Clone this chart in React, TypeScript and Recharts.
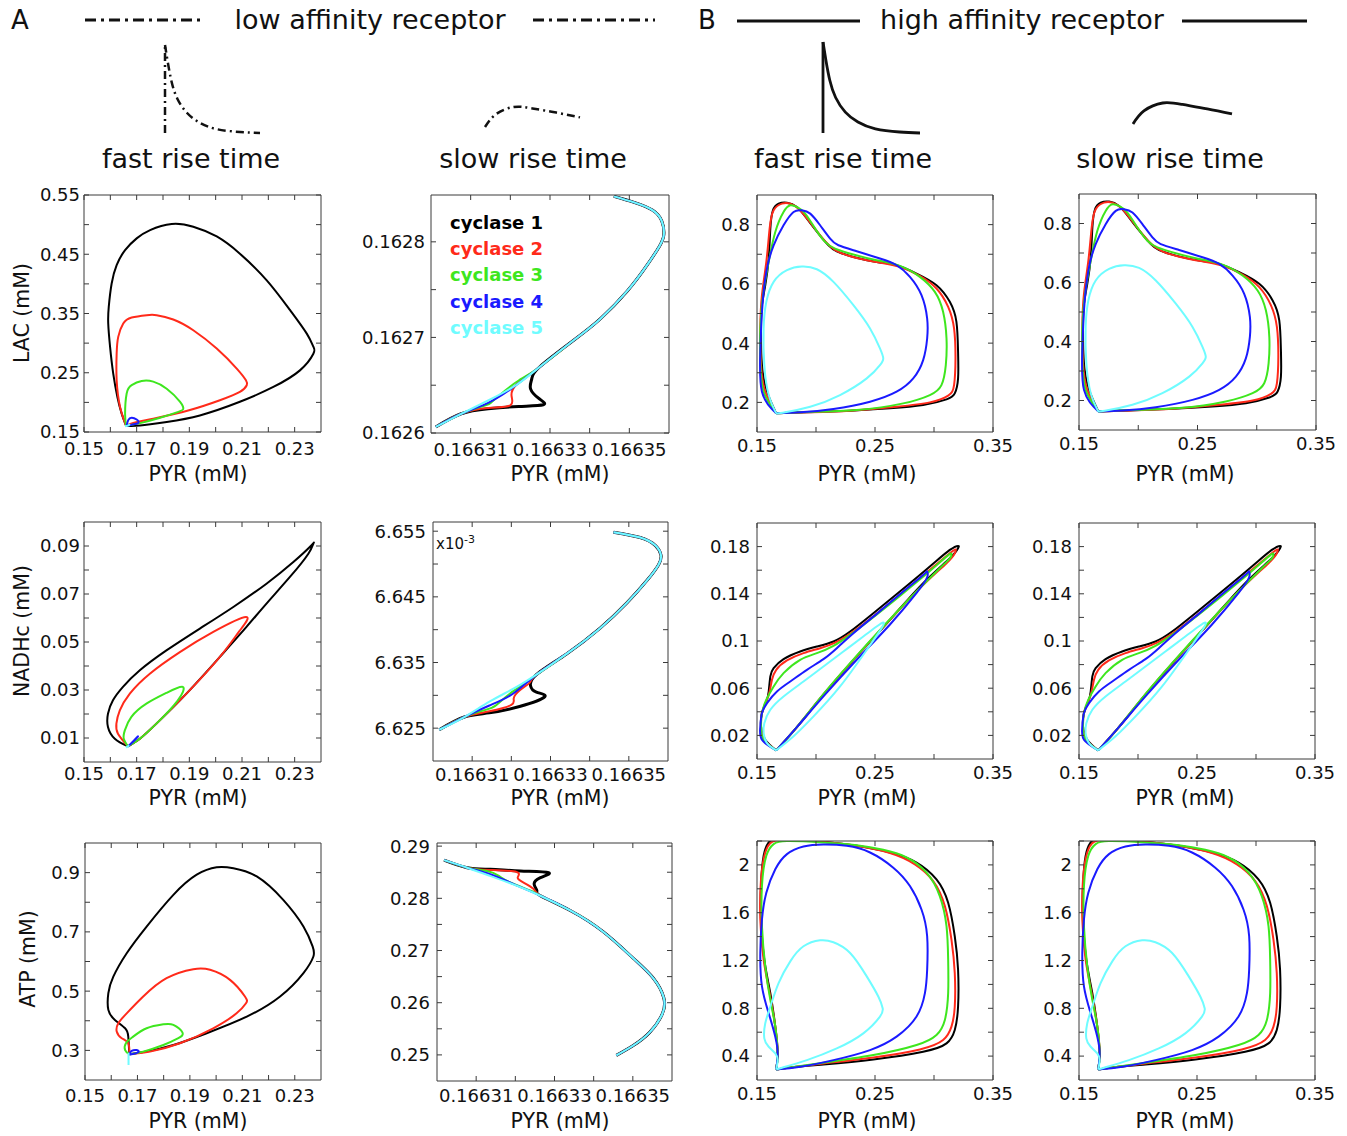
import React from 'react'
import { LineChart, Line, XAxis, YAxis } from 'recharts'

const FONT = "'DejaVu Sans', Verdana, sans-serif"
const AX = '#3a3a3a'
const COLORS = ['#000000', '#ff2a1a', '#3ee61e', '#1a1aff', '#6ffcff']
const LEGEND = ['cyclase 1', 'cyclase 2', 'cyclase 3', 'cyclase 4', 'cyclase 5']

type P = [number, number]

// ---- column 1: low affinity, fast rise (LAC / NADHc / ATP vs PYR)
const lacFastK: P[] = [[0.166, 0.1605], [0.1643, 0.181], [0.1627, 0.2087], [0.1611, 0.2486], [0.1599, 0.2937], [0.1592, 0.3331], [0.1594, 0.3613], [0.1605, 0.4007], [0.1624, 0.4317], [0.1656, 0.457], [0.17, 0.4768], [0.1751, 0.4908], [0.1833, 0.501], [0.1915, 0.4965], [0.2004, 0.48], [0.2092, 0.451], [0.2194, 0.406], [0.2282, 0.356], [0.2346, 0.316], [0.2371, 0.294], [0.2371, 0.282], [0.232, 0.254], [0.2219, 0.226], [0.2092, 0.201], [0.194, 0.178], [0.1814, 0.167], [0.1713, 0.161], [0.166, 0.1605]]
const lacFastR: P[] = [[0.166, 0.1605], [0.1637, 0.1923], [0.1624, 0.2373], [0.1624, 0.2824], [0.163, 0.3106], [0.1649, 0.3331], [0.1681, 0.3432], [0.1738, 0.3472], [0.1776, 0.3472], [0.1839, 0.3399], [0.1915, 0.3218], [0.2004, 0.2908], [0.208, 0.257], [0.2115, 0.2373], [0.2118, 0.2289], [0.2092, 0.2176], [0.2016, 0.2035], [0.1899, 0.1866], [0.1763, 0.1725], [0.1687, 0.1652], [0.166, 0.1605]]
const lacFastG: P[] = [[0.166, 0.1605], [0.1656, 0.181], [0.1662, 0.215], [0.1681, 0.229], [0.1719, 0.236], [0.1763, 0.235], [0.1814, 0.223], [0.1865, 0.201], [0.1877, 0.189], [0.1858, 0.184], [0.1789, 0.174], [0.1713, 0.165], [0.166, 0.1605]]
const lacFastB: P[] = [[0.1662, 0.1605], [0.1668, 0.17], [0.1681, 0.1742], [0.17, 0.171], [0.1706, 0.1652], [0.1681, 0.1624], [0.1662, 0.1605]]
const lacFastC: P[] = [[0.1656, 0.1596], [0.1668, 0.1612], [0.1675, 0.163]]

const nadFastK: P[] = [[0.1667, 0.0065], [0.1617, 0.0097], [0.1591, 0.0146], [0.1591, 0.0201], [0.161, 0.0257], [0.1648, 0.0313], [0.1712, 0.0382], [0.1813, 0.0465], [0.194, 0.0556], [0.2067, 0.0646], [0.2193, 0.0743], [0.2295, 0.0833], [0.2364, 0.0903], [0.2371, 0.091], [0.2352, 0.0868], [0.2282, 0.0771], [0.2193, 0.066], [0.2117, 0.0563], [0.2016, 0.0438], [0.1889, 0.0285], [0.1775, 0.016], [0.1712, 0.0097], [0.1667, 0.0065]]
const nadFastR: P[] = [[0.1667, 0.0065], [0.1629, 0.0118], [0.1623, 0.016], [0.1636, 0.0215], [0.1674, 0.0285], [0.175, 0.0368], [0.1864, 0.0458], [0.1991, 0.0542], [0.2115, 0.0604], [0.209, 0.0545], [0.2016, 0.0438], [0.1889, 0.0285], [0.1775, 0.016], [0.1712, 0.0097], [0.1667, 0.0065]]
const nadFastG: P[] = [[0.1667, 0.0065], [0.1651, 0.0097], [0.1655, 0.0132], [0.168, 0.0188], [0.1737, 0.0243], [0.1813, 0.0288], [0.1875, 0.0313], [0.1855, 0.0255], [0.1775, 0.016], [0.1712, 0.0097], [0.1667, 0.0065]]
const nadFastB: P[] = [[0.1667, 0.0065], [0.169, 0.009], [0.1705, 0.0107], [0.1692, 0.009], [0.1667, 0.0065]]
const nadFastC: P[] = [[0.166, 0.006], [0.1672, 0.007]]

const atpFastK: P[] = [[0.1669, 0.287], [0.1665, 0.3465], [0.1653, 0.3746], [0.1614, 0.4028], [0.1589, 0.4366], [0.1589, 0.493], [0.1608, 0.549], [0.1659, 0.628], [0.1735, 0.718], [0.1837, 0.825], [0.1926, 0.893], [0.2002, 0.918], [0.2066, 0.915], [0.2155, 0.887], [0.2256, 0.808], [0.2333, 0.718], [0.2368, 0.651], [0.2371, 0.617], [0.2333, 0.561], [0.2244, 0.482], [0.2117, 0.414], [0.1964, 0.358], [0.1837, 0.318], [0.1735, 0.296], [0.1669, 0.287]]
const atpFastR: P[] = [[0.1669, 0.287], [0.1665, 0.324], [0.164, 0.341], [0.1621, 0.3634], [0.1627, 0.3915], [0.1659, 0.425], [0.1722, 0.4817], [0.1811, 0.5437], [0.1913, 0.574], [0.1977, 0.572], [0.2053, 0.538], [0.211, 0.4817], [0.2114, 0.459], [0.2078, 0.425], [0.1989, 0.3746], [0.1862, 0.324], [0.1748, 0.2958], [0.1669, 0.287]]
const atpFastG: P[] = [[0.1669, 0.287], [0.1653, 0.301], [0.1656, 0.324], [0.1684, 0.3465], [0.1735, 0.3746], [0.1799, 0.388], [0.1837, 0.386], [0.1872, 0.36], [0.1856, 0.341], [0.1799, 0.318], [0.1722, 0.2958], [0.1669, 0.287]]
const atpFastB: P[] = [[0.1669, 0.287], [0.1678, 0.298], [0.1697, 0.301], [0.1703, 0.2935], [0.1678, 0.2868], [0.1669, 0.287]]
const atpFastC: P[] = [[0.1666, 0.2507], [0.1666, 0.272], [0.1666, 0.292]]

// ---- column 2: low affinity, slow rise (zoom on the corner)
const lacSlowLow: P[] = [[0.1663012, 0.1626063], [0.1663076, 0.1626201]]
const lacSlowDiag: P[] = [[0.1663144, 0.162634], [0.1663213, 0.1626497], [0.1663273, 0.1626688]]
const lacSlowUp: P[] = [[0.1663358, 0.1626965], [0.1663426, 0.1627191], [0.1663495, 0.1627486], [0.1663546, 0.1627764], [0.1663576, 0.1627955], [0.1663587, 0.1628076], [0.1663582, 0.1628215], [0.1663559, 0.162833], [0.1663512, 0.1628413], [0.1663461, 0.1628476]]
const lacSlowK: P[] = [[0.1663144, 0.1626254], [0.1663221, 0.1626278], [0.1663283, 0.1626295], [0.1663273, 0.1626358], [0.1663251, 0.1626462], [0.1663254, 0.1626566], [0.1663273, 0.1626688]]
const lacSlowR: P[] = [[0.1663144, 0.1626262], [0.16632, 0.1626288], [0.1663203, 0.1626392], [0.1663213, 0.1626497], [0.1663238, 0.1626583], [0.1663273, 0.1626688]]
const lacSlowG: P[] = [[0.1663136, 0.1626288], [0.1663153, 0.1626323], [0.1663187, 0.1626444], [0.1663221, 0.1626549], [0.1663273, 0.1626688]]
const lacSlowB: P[] = [[0.1663144, 0.1626316], [0.1663204, 0.1626469], [0.1663273, 0.1626688]]

const nadSlowLow: P[] = [[0.1663016, 6.62476], [0.166308, 6.6267]]
const nadSlowDiag: P[] = [[0.1663144, 6.62903], [0.1663204, 6.63097], [0.1663264, 6.63316]]
const nadSlowUp: P[] = [[0.1663341, 6.63631], [0.1663426, 6.64019], [0.1663495, 6.64408], [0.1663546, 6.64748], [0.1663576, 6.6499], [0.1663582, 6.65136], [0.1663568, 6.65281], [0.1663529, 6.65403], [0.1663461, 6.65485]]
const nadSlowK: P[] = [[0.1663144, 6.62733], [0.1663221, 6.6283], [0.1663285, 6.62976], [0.1663264, 6.63049], [0.1663249, 6.63146], [0.1663264, 6.63316]]
const nadSlowR: P[] = [[0.1663144, 6.62757], [0.16632, 6.62854], [0.1663206, 6.62951], [0.1663221, 6.63073], [0.1663247, 6.63194], [0.1663264, 6.63316]]
const nadSlowG: P[] = [[0.1663136, 6.62782], [0.1663162, 6.62854], [0.1663196, 6.63024], [0.1663238, 6.63194], [0.1663264, 6.63316]]
const nadSlowB: P[] = [[0.1663144, 6.62845], [0.1663204, 6.63024], [0.1663264, 6.63316]]

const atpSlowLow: P[] = [[0.1663018, 0.28732], [0.1663077, 0.28587]]
const atpSlowDiag: P[] = [[0.1663136, 0.28429], [0.1663204, 0.2824], [0.1663264, 0.2805]]
const atpSlowUp: P[] = [[0.166334, 0.27767], [0.1663425, 0.27356], [0.1663501, 0.26852], [0.1663552, 0.26473], [0.1663579, 0.26095], [0.1663575, 0.25779], [0.1663543, 0.25432], [0.1663501, 0.2518], [0.1663458, 0.24991]]
const atpSlowK: P[] = [[0.1663136, 0.28555], [0.1663213, 0.28524], [0.1663285, 0.28492], [0.1663264, 0.28397], [0.1663248, 0.28271], [0.1663255, 0.28145], [0.1663264, 0.2805]]
const atpSlowR: P[] = [[0.1663136, 0.28543], [0.1663203, 0.28505], [0.1663206, 0.28397], [0.1663221, 0.28303], [0.1663247, 0.28177], [0.1663264, 0.2805]]
const atpSlowG: P[] = [[0.1663128, 0.28524], [0.1663158, 0.28429], [0.1663187, 0.28303], [0.166324, 0.28145], [0.1663264, 0.2805]]
const atpSlowB: P[] = [[0.1663136, 0.28461], [0.1663196, 0.28271], [0.1663264, 0.2805]]

// ---- columns 3 & 4: high affinity receptor
const lacHiK: P[] = [[0.1663, 0.1629], [0.1585, 0.236], [0.1542, 0.3258], [0.1534, 0.4494], [0.1542, 0.528], [0.157, 0.5955], [0.1599, 0.6854], [0.1613, 0.7865], [0.1635, 0.8483], [0.1683, 0.8708], [0.1754, 0.8742], [0.1838, 0.8596], [0.1923, 0.8202], [0.2021, 0.7697], [0.2106, 0.7303], [0.2176, 0.7101], [0.2317, 0.691], [0.2514, 0.6742], [0.2683, 0.6629], [0.2852, 0.6348], [0.3021, 0.5955], [0.3134, 0.5393], [0.319, 0.4719], [0.3204, 0.3708], [0.3204, 0.2809], [0.3176, 0.2303], [0.3106, 0.2101], [0.2908, 0.191], [0.2627, 0.1798], [0.2289, 0.1719], [0.1923, 0.1663], [0.1663, 0.1629]]
const lacHiR: P[] = [[0.1663, 0.1629], [0.157, 0.236], [0.1534, 0.3258], [0.1528, 0.4494], [0.1542, 0.5618], [0.1579, 0.6742], [0.1607, 0.7865], [0.1641, 0.8483], [0.1711, 0.8708], [0.1782, 0.8708], [0.1852, 0.8539], [0.1937, 0.8146], [0.2035, 0.764], [0.212, 0.727], [0.2204, 0.7056], [0.2345, 0.6876], [0.2542, 0.6719], [0.2711, 0.6573], [0.288, 0.627], [0.3021, 0.5843], [0.312, 0.5225], [0.317, 0.4494], [0.3182, 0.3483], [0.317, 0.2584], [0.312, 0.2225], [0.2965, 0.2], [0.2683, 0.1854], [0.2289, 0.1719], [0.1923, 0.1663], [0.1663, 0.1629]]
const lacHiG: P[] = [[0.1663, 0.1629], [0.1556, 0.236], [0.1528, 0.3371], [0.1528, 0.4494], [0.1551, 0.5618], [0.1599, 0.6742], [0.1655, 0.7753], [0.1725, 0.8427], [0.1782, 0.8652], [0.1838, 0.8596], [0.1908, 0.8371], [0.1993, 0.7865], [0.2077, 0.7416], [0.2162, 0.719], [0.2317, 0.6989], [0.2514, 0.6798], [0.2711, 0.6607], [0.288, 0.6236], [0.3007, 0.573], [0.3077, 0.5056], [0.3106, 0.4157], [0.31, 0.3258], [0.3063, 0.2584], [0.2965, 0.2247], [0.2739, 0.1966], [0.2345, 0.1742], [0.1923, 0.1675], [0.1663, 0.1629]]
const lacHiB: P[] = [[0.1663, 0.1629], [0.1542, 0.236], [0.1528, 0.3708], [0.1542, 0.5056], [0.1579, 0.6404], [0.1641, 0.7303], [0.1725, 0.7978], [0.181, 0.8427], [0.188, 0.8483], [0.1951, 0.8371], [0.2035, 0.7978], [0.212, 0.7528], [0.219, 0.7303], [0.2345, 0.7101], [0.2542, 0.6854], [0.2683, 0.6629], [0.2796, 0.6236], [0.2894, 0.5618], [0.2942, 0.4831], [0.2942, 0.4157], [0.2908, 0.3427], [0.2824, 0.2809], [0.2683, 0.236], [0.2458, 0.2022], [0.2148, 0.1775], [0.1866, 0.1663], [0.1663, 0.1629]]
const lacHiC: P[] = [[0.1663, 0.1629], [0.1599, 0.2247], [0.1562, 0.3258], [0.1556, 0.4494], [0.1579, 0.5393], [0.1641, 0.6067], [0.1754, 0.6461], [0.188, 0.6584], [0.2007, 0.6494], [0.2148, 0.6067], [0.2317, 0.5281], [0.2458, 0.4494], [0.2542, 0.382], [0.257, 0.3483], [0.2542, 0.3258], [0.243, 0.2809], [0.2204, 0.2247], [0.1951, 0.1854], [0.1718, 0.1652], [0.1663, 0.1629]]

const nadHiK: P[] = [[0.1663, 0.0073], [0.157, 0.0163], [0.1534, 0.0276], [0.1542, 0.0389], [0.1579, 0.0488], [0.1599, 0.0572], [0.1613, 0.07], [0.1641, 0.077], [0.1725, 0.0846], [0.1866, 0.0911], [0.2007, 0.0953], [0.2148, 0.0996], [0.2289, 0.108], [0.2486, 0.1236], [0.2711, 0.1419], [0.2965, 0.1631], [0.3134, 0.1772], [0.3204, 0.1806], [0.3204, 0.1786], [0.3134, 0.1701], [0.2908, 0.149], [0.2627, 0.118], [0.2345, 0.087], [0.2063, 0.0545], [0.1838, 0.027], [0.1663, 0.0073]]
const nadHiR: P[] = [[0.1663, 0.0073], [0.1562, 0.0163], [0.1534, 0.0276], [0.1542, 0.0389], [0.1579, 0.0488], [0.1607, 0.0572], [0.1627, 0.0671], [0.1663, 0.0756], [0.1754, 0.0835], [0.1894, 0.0897], [0.2035, 0.0939], [0.2162, 0.0987], [0.2303, 0.1072], [0.25, 0.1221], [0.2725, 0.1405], [0.2965, 0.1603], [0.3134, 0.1744], [0.3183, 0.1777], [0.3176, 0.1743], [0.3106, 0.1659], [0.288, 0.1447], [0.2599, 0.115], [0.2317, 0.084], [0.2049, 0.053], [0.1838, 0.027], [0.1663, 0.0073]]
const nadHiG: P[] = [[0.1663, 0.0073], [0.1556, 0.0163], [0.1534, 0.0276], [0.1542, 0.0389], [0.1579, 0.0502], [0.1641, 0.0615], [0.1725, 0.0728], [0.1866, 0.0841], [0.2007, 0.0897], [0.2148, 0.0959], [0.2289, 0.1052], [0.2486, 0.1202], [0.2711, 0.1382], [0.2937, 0.1569], [0.3106, 0.1715], [0.3148, 0.1738], [0.3134, 0.1701], [0.3049, 0.1617], [0.2851, 0.1419], [0.257, 0.1123], [0.2289, 0.0812], [0.2035, 0.0516], [0.1838, 0.027], [0.1663, 0.0073]]
const nadHiB: P[] = [[0.1663, 0.0073], [0.1542, 0.0163], [0.1528, 0.0276], [0.1542, 0.0389], [0.1585, 0.0474], [0.1669, 0.0572], [0.1782, 0.0657], [0.1923, 0.0756], [0.2063, 0.0846], [0.2176, 0.0939], [0.2317, 0.1066], [0.2514, 0.123], [0.2739, 0.1419], [0.2908, 0.156], [0.2942, 0.1588], [0.2942, 0.154], [0.2851, 0.1405], [0.2627, 0.114], [0.2345, 0.0841], [0.2063, 0.053], [0.1838, 0.027], [0.1663, 0.0073]]
const nadHiC: P[] = [[0.1663, 0.0073], [0.1585, 0.0135], [0.1556, 0.022], [0.1562, 0.0304], [0.1613, 0.0417], [0.1725, 0.053], [0.1894, 0.0657], [0.2063, 0.0784], [0.2232, 0.0911], [0.2401, 0.1038], [0.2514, 0.1123], [0.257, 0.1157], [0.2556, 0.1109], [0.243, 0.0925], [0.2204, 0.0615], [0.1979, 0.0361], [0.181, 0.0192], [0.1663, 0.0073]]

const atpHiK: P[] = [[0.1663, 0.288], [0.1675, 0.4224], [0.1655, 0.6466], [0.1613, 0.9268], [0.1562, 1.207], [0.1534, 1.543], [0.1534, 1.823], [0.1556, 2.076], [0.1599, 2.188], [0.1641, 2.21], [0.1782, 2.21], [0.2063, 2.193], [0.2345, 2.16], [0.2627, 2.104], [0.2852, 2.02], [0.3021, 1.879], [0.312, 1.683], [0.3176, 1.403], [0.3204, 1.123], [0.3204, 0.8147], [0.3176, 0.6186], [0.3106, 0.5065], [0.2908, 0.4364], [0.2486, 0.372], [0.2063, 0.33], [0.1782, 0.3047], [0.1663, 0.288]]
const atpHiR: P[] = [[0.1663, 0.288], [0.1675, 0.4224], [0.1655, 0.6466], [0.1607, 0.9268], [0.1556, 1.207], [0.1528, 1.543], [0.1534, 1.879], [0.157, 2.104], [0.1627, 2.193], [0.1754, 2.21], [0.2063, 2.193], [0.2345, 2.16], [0.2627, 2.1], [0.2838, 2.005], [0.2993, 1.865], [0.3092, 1.655], [0.3148, 1.375], [0.3176, 1.095], [0.3176, 0.8147], [0.3148, 0.6466], [0.3077, 0.5345], [0.288, 0.456], [0.2486, 0.3888], [0.2063, 0.3384], [0.1782, 0.3047], [0.1663, 0.288]]
const atpHiG: P[] = [[0.1663, 0.288], [0.1675, 0.4224], [0.1655, 0.6466], [0.1613, 0.8707], [0.157, 1.151], [0.1542, 1.487], [0.1542, 1.823], [0.1579, 2.076], [0.1641, 2.174], [0.1754, 2.199], [0.2063, 2.188], [0.2345, 2.165], [0.257, 2.126], [0.2768, 2.062], [0.2937, 1.935], [0.3049, 1.739], [0.3106, 1.487], [0.312, 1.207], [0.312, 0.9268], [0.3092, 0.7026], [0.3021, 0.5765], [0.2852, 0.4925], [0.2486, 0.4084], [0.2063, 0.344], [0.1782, 0.3047], [0.1663, 0.288]]
const atpHiB: P[] = [[0.1663, 0.288], [0.1675, 0.4224], [0.1655, 0.5625], [0.1599, 0.7586], [0.1542, 0.9828], [0.1528, 1.263], [0.1542, 1.543], [0.1579, 1.767], [0.1655, 1.963], [0.1754, 2.09], [0.1894, 2.154], [0.2063, 2.171], [0.2261, 2.16], [0.2458, 2.104], [0.2655, 1.977], [0.2796, 1.823], [0.2894, 1.627], [0.2942, 1.403], [0.2942, 1.123], [0.2923, 0.9268], [0.2852, 0.7306], [0.2683, 0.5625], [0.2458, 0.4504], [0.2148, 0.3664], [0.1866, 0.3103], [0.1663, 0.288]]
const atpHiC: P[] = [[0.1663, 0.288], [0.1675, 0.3664], [0.1655, 0.4224], [0.1599, 0.4785], [0.1562, 0.5485], [0.157, 0.6746], [0.1613, 0.8147], [0.1683, 1.011], [0.1782, 1.193], [0.1894, 1.319], [0.2035, 1.369], [0.2148, 1.353], [0.2289, 1.263], [0.243, 1.067], [0.2528, 0.8987], [0.2565, 0.8007], [0.2542, 0.7306], [0.2401, 0.5905], [0.2176, 0.4644], [0.1923, 0.3664], [0.1718, 0.3047], [0.1663, 0.288]]

// ---- stimulus icons (normalised time / amplitude)
const fastPulse: P[] = [[0, 1], [0.03, 0.8], [0.07, 0.58], [0.13, 0.39], [0.23, 0.23], [0.36, 0.12], [0.54, 0.045], [0.79, 0.011], [1, 0]]
const fastRise: P[] = [[0, 0], [0, 1]]
const slowPulse: P[] = [[0, 0], [0.11, 0.62], [0.3, 1], [0.5, 0.93], [0.75, 0.72], [1, 0.48]]

// ---- axis ticks
const xLow = [0.15, 0.16, 0.17, 0.18, 0.19, 0.2, 0.21, 0.22, 0.23]
const xLowLab = ['0.15', '', '0.17', '', '0.19', '', '0.21', '', '0.23']
const xZoom = [0.16631, 0.16632, 0.16633, 0.16634, 0.16635]
const xZoomLab = ['0.16631', '', '0.16633', '', '0.16635']
const xHi = [0.15, 0.2, 0.25, 0.3, 0.35]
const xHiLab = ['0.15', '', '0.25', '', '0.35']

const yLacLow = [0.15, 0.2, 0.25, 0.3, 0.35, 0.4, 0.45, 0.5, 0.55]
const yLacLowLab = ['0.15', '', '0.25', '', '0.35', '', '0.45', '', '0.55']
const yNadLow = [0.01, 0.02, 0.03, 0.04, 0.05, 0.06, 0.07, 0.08, 0.09]
const yNadLowLab = ['0.01', '', '0.03', '', '0.05', '', '0.07', '', '0.09']
const yAtpLow = [0.3, 0.4, 0.5, 0.6, 0.7, 0.8, 0.9]
const yAtpLowLab = ['0.3', '', '0.5', '', '0.7', '', '0.9']
const yLacZoom = [0.1626, 0.16265, 0.1627, 0.16275, 0.1628]
const yLacZoomLab = ['0.1626', '', '0.1627', '', '0.1628']
const yNadZoom = [6.625, 6.63, 6.635, 6.64, 6.645, 6.65, 6.655]
const yNadZoomLab = ['6.625', '', '6.635', '', '6.645', '', '6.655']
const yAtpZoom = [0.25, 0.255, 0.26, 0.265, 0.27, 0.275, 0.28, 0.285, 0.29]
const yAtpZoomLab = ['0.25', '', '0.26', '', '0.27', '', '0.28', '', '0.29']
const yLacHi = [0.2, 0.3, 0.4, 0.5, 0.6, 0.7, 0.8]
const yLacHiLab = ['0.2', '', '0.4', '', '0.6', '', '0.8']
const yNadHi = [0.02, 0.04, 0.06, 0.08, 0.1, 0.12, 0.14, 0.16, 0.18]
const yNadHiLab = ['0.02', '', '0.06', '', '0.1', '', '0.14', '', '0.18']
const yAtpHi = [0.4, 0.6, 0.8, 1, 1.2, 1.4, 1.6, 1.8, 2, 2.2]
const yAtpHiLab = ['0.4', '', '0.8', '', '1.2', '', '1.6', '', '2', '']

const pts = (a: P[]) => a.map(([x, y]) => ({ x, y }))

type Box = { x: number; y: number; w: number; h: number }
type PanelProps = {
  box: Box
  xd: [number, number]
  yd: [number, number]
  xt: number[]
  xl: string[]
  yt: number[]
  yl: string[]
  series: P[][]
  thickBlack?: boolean
  xm?: number
  ym?: number
}

// outer space around each plot box; every axis is 1px thick
const ML = 80, MR = 36, MT = 14, MB = 40
const tickFont = { fontSize: 18, fill: '#111', fontFamily: FONT }

function Panel({ box, xd, yd, xt, xl, yt, yl, series, thickBlack, xm = 12, ym = 12 }: PanelProps) {
  return (
    <div style={{ position: 'absolute', left: box.x - ML, top: box.y - MT }}>
      <LineChart width={box.w + ML + MR} height={box.h + MT + MB} margin={{ top: MT - 1, right: MR - 1, bottom: MB - 1, left: ML - 1 }}>
        <XAxis xAxisId="b" type="number" dataKey="x" domain={xd} ticks={xt} interval={0} allowDataOverflow
          height={1} tickSize={-5} tickMargin={xm} tickFormatter={(_v: number, i: number) => xl[i]}
          tick={tickFont} axisLine={{ stroke: AX }} tickLine={{ stroke: AX }} />
        <XAxis xAxisId="t" orientation="top" type="number" dataKey="x" domain={xd} ticks={xt} interval={0} allowDataOverflow
          height={1} tickSize={-5} tickFormatter={() => ''} axisLine={{ stroke: AX }} tickLine={{ stroke: AX }} />
        <YAxis yAxisId="l" type="number" dataKey="y" domain={yd} ticks={yt} interval={0} allowDataOverflow
          width={1} tickSize={-5} tickMargin={ym} tickFormatter={(_v: number, i: number) => yl[i]}
          tick={tickFont} axisLine={{ stroke: AX }} tickLine={{ stroke: AX }} />
        <YAxis yAxisId="r" orientation="right" type="number" dataKey="y" domain={yd} ticks={yt} interval={0} allowDataOverflow
          width={1} tickSize={-5} tickFormatter={() => ''} axisLine={{ stroke: AX }} tickLine={{ stroke: AX }} />
        {series.map((s, i) => (
          <Line key={i} data={pts(s)} dataKey="y" xAxisId="b" yAxisId="l" type="natural"
            stroke={COLORS[i]} strokeWidth={thickBlack && i === 0 ? 3 : 2} dot={false} activeDot={false}
            isAnimationActive={false} />
        ))}
        <Line data={pts(series[series.length - 1])} dataKey="y" xAxisId="t" yAxisId="r" stroke="none"
          dot={false} activeDot={false} isAnimationActive={false} />
      </LineChart>
    </div>
  )
}

function Icon({ x, y, w, h, lines, dash }: { x: number; y: number; w: number; h: number; lines: P[][]; dash?: string }) {
  const pad = 3
  return (
    <div style={{ position: 'absolute', left: x - pad, top: y - pad }}>
      <LineChart width={w + 2 * pad} height={h + 2 * pad} margin={{ top: pad, right: pad, bottom: pad, left: pad }}>
        <XAxis type="number" dataKey="x" domain={[0, 1]} hide />
        <YAxis type="number" dataKey="y" domain={[0, 1]} hide />
        {lines.map((l, i) => (
          <Line key={i} data={pts(l)} dataKey="y" type={l.length > 2 ? 'natural' : 'linear'} stroke="#111"
            strokeWidth={dash ? 2.5 : 2.8} strokeDasharray={dash} dot={false} activeDot={false} isAnimationActive={false} />
        ))}
      </LineChart>
    </div>
  )
}

const txt = (x: number, y: number, s: string, size: number, extra: React.CSSProperties = {}) => (
  <div style={{ position: 'absolute', left: x, top: y, transform: 'translate(-50%, -50%)', fontSize: size, whiteSpace: 'nowrap', color: '#111', ...extra }}>{s}</div>
)

const DASHDOT = '11 5 3 5'

export default function App() {
  const col1 = 84, col2 = 432, col3 = 757, col4 = 1079
  const row1 = 195, row2 = 522, row3 = 843
  const zoomX: [number, number] = [0.1663, 0.16636]
  return (
    <div style={{ position: 'absolute', left: 0, top: 0, width: 1347, height: 1136, background: '#fff', fontFamily: FONT, overflow: 'hidden' }}>
      {/* header */}
      {txt(20, 20, 'A', 26)}
      {txt(707, 20, 'B', 26)}
      <svg width={1347} height={40} style={{ position: 'absolute', left: 0, top: 0 }}>
        <line x1={85} y1={20} x2={205} y2={20} stroke="#111" strokeWidth={3} strokeDasharray={DASHDOT} />
        <line x1={533} y1={20} x2={655} y2={20} stroke="#111" strokeWidth={3} strokeDasharray={DASHDOT} />
        <line x1={737} y1={21} x2={860} y2={21} stroke="#111" strokeWidth={3} />
        <line x1={1182} y1={21} x2={1307} y2={21} stroke="#111" strokeWidth={3} />
      </svg>
      {txt(370, 19, 'low affinity receptor', 27)}
      {txt(1022, 19, 'high affinity receptor', 27)}
      <Icon x={165} y={45} w={95} h={88} lines={[fastRise, fastPulse]} dash="8 4 2 4" />
      <Icon x={485} y={107} w={95} h={20} lines={[slowPulse]} dash="8 4 2 4" />
      <Icon x={823} y={42} w={97} h={91} lines={[fastRise, fastPulse]} />
      <Icon x={1133} y={103} w={99} h={21} lines={[slowPulse]} />
      {txt(191, 158, 'fast rise time', 27)}
      {txt(533, 158, 'slow rise time', 27)}
      {txt(843, 158, 'fast rise time', 27)}
      {txt(1170, 158, 'slow rise time', 27)}

      {/* row 1: LAC */}
      <Panel box={{ x: col1, y: row1, w: 237, h: 237 }} xd={[0.15, 0.24]} yd={[0.15, 0.55]} xt={xLow} xl={xLowLab} yt={yLacLow} yl={yLacLowLab} xm={15} ym={9}
        series={[lacFastK, lacFastR, lacFastG, lacFastB, lacFastC]} />
      <Panel box={{ x: col2 - 1, y: row1, w: 238, h: 238 }} xd={zoomX} yd={[0.1626, 0.162849]} xt={xZoom} xl={xZoomLab} yt={yLacZoom} yl={yLacZoomLab} thickBlack xm={15} ym={11}
        series={[
          [...lacSlowLow, ...lacSlowK, ...lacSlowUp],
          [...lacSlowLow, ...lacSlowR, ...lacSlowUp],
          [...lacSlowLow, ...lacSlowG, ...lacSlowUp],
          [...lacSlowLow, ...lacSlowB, ...lacSlowUp],
          [...lacSlowLow, ...lacSlowDiag, ...lacSlowUp],
        ]} />
      <Panel box={{ x: col3, y: row1, w: 236, h: 237 }} xd={[0.15, 0.35]} yd={[0.1, 0.9]} xt={xHi} xl={xHiLab} yt={yLacHi} yl={yLacHiLab}
        series={[lacHiK, lacHiR, lacHiG, lacHiB, lacHiC]} />
      <Panel box={{ x: col4, y: row1 - 1, w: 237, h: 236 }} xd={[0.15, 0.35]} yd={[0.1, 0.9]} xt={xHi} xl={xHiLab} yt={yLacHi} yl={yLacHiLab}
        series={[lacHiK, lacHiR, lacHiG, lacHiB, lacHiC]} />

      {/* row 2: NADHc */}
      <Panel box={{ x: col1, y: row2, w: 237, h: 240 }} xd={[0.15, 0.24]} yd={[0, 0.1]} xt={xLow} xl={xLowLab} yt={yNadLow} yl={yNadLowLab} xm={10} ym={9}
        series={[nadFastK, nadFastR, nadFastG, nadFastB, nadFastC]} />
      <Panel box={{ x: col2 + 1, y: row2, w: 235, h: 239 }} xd={zoomX} yd={[6.62, 6.6564]} xt={xZoom} xl={xZoomLab} yt={yNadZoom} yl={yNadZoomLab} thickBlack
        series={[
          [...nadSlowLow, ...nadSlowK, ...nadSlowUp],
          [...nadSlowLow, ...nadSlowR, ...nadSlowUp],
          [...nadSlowLow, ...nadSlowG, ...nadSlowUp],
          [...nadSlowLow, ...nadSlowB, ...nadSlowUp],
          [...nadSlowLow, ...nadSlowDiag, ...nadSlowUp],
        ]} />
      <Panel box={{ x: col3, y: row2 + 1, w: 236, h: 236 }} xd={[0.15, 0.35]} yd={[0, 0.2]} xt={xHi} xl={xHiLab} yt={yNadHi} yl={yNadHiLab}
        series={[nadHiK, nadHiR, nadHiG, nadHiB, nadHiC]} />
      <Panel box={{ x: col4, y: row2 + 1, w: 236, h: 236 }} xd={[0.15, 0.35]} yd={[0, 0.2]} xt={xHi} xl={xHiLab} yt={yNadHi} yl={yNadHiLab}
        series={[nadHiK, nadHiR, nadHiG, nadHiB, nadHiC]} />

      {/* row 3: ATP */}
      <Panel box={{ x: col1 + 1, y: row3, w: 236, h: 237 }} xd={[0.15, 0.24]} yd={[0.2, 1.0]} xt={xLow} xl={xLowLab} yt={yAtpLow} yl={yAtpLowLab} xm={14} ym={10}
        series={[atpFastK, atpFastR, atpFastG, atpFastB, atpFastC]} />
      <Panel box={{ x: col2 + 5, y: row3, w: 235, h: 238 }} xd={zoomX} yd={[0.245, 0.2906]} xt={xZoom} xl={xZoomLab} yt={yAtpZoom} yl={yAtpZoomLab} thickBlack xm={13}
        series={[
          [...atpSlowLow, ...atpSlowK, ...atpSlowUp],
          [...atpSlowLow, ...atpSlowR, ...atpSlowUp],
          [...atpSlowLow, ...atpSlowG, ...atpSlowUp],
          [...atpSlowLow, ...atpSlowB, ...atpSlowUp],
          [...atpSlowLow, ...atpSlowDiag, ...atpSlowUp],
        ]} />
      <Panel box={{ x: col3, y: row3 - 2, w: 236, h: 239 }} xd={[0.15, 0.35]} yd={[0.2, 2.2]} xt={xHi} xl={xHiLab} yt={yAtpHi} yl={yAtpHiLab}
        series={[atpHiK, atpHiR, atpHiG, atpHiB, atpHiC]} />
      <Panel box={{ x: col4, y: row3 - 2, w: 236, h: 239 }} xd={[0.15, 0.35]} yd={[0.2, 2.2]} xt={xHi} xl={xHiLab} yt={yAtpHi} yl={yAtpHiLab}
        series={[atpHiK, atpHiR, atpHiG, atpHiB, atpHiC]} />

      {/* legend */}
      {LEGEND.map((s, i) => (
        <div key={s} style={{ position: 'absolute', left: 450, top: 222 + i * 26.2, transform: 'translateY(-50%)', fontSize: 18, fontWeight: 'bold', color: COLORS[i], whiteSpace: 'nowrap' }}>{s}</div>
      ))}
      <div style={{ position: 'absolute', left: 436, top: 533, fontSize: 15, color: '#111' }}>x10<sup style={{ fontSize: 11 }}>-3</sup></div>

      {/* axis titles */}
      {[198, 560, 867, 1185].map((cx) => (
        <React.Fragment key={cx}>
          {txt(cx, 474, 'PYR (mM)', 20.5)}
          {txt(cx, 798, 'PYR (mM)', 20.5)}
          {txt(cx, 1121, 'PYR (mM)', 20.5)}
        </React.Fragment>
      ))}
      {txt(22, 313, 'LAC (mM)', 20.5, { transform: 'translate(-50%, -50%) rotate(-90deg)' })}
      {txt(22, 631, 'NADHc (mM)', 20.5, { transform: 'translate(-50%, -50%) rotate(-90deg)' })}
      {txt(28, 959, 'ATP (mM)', 20.5, { transform: 'translate(-50%, -50%) rotate(-90deg)' })}
    </div>
  )
}
